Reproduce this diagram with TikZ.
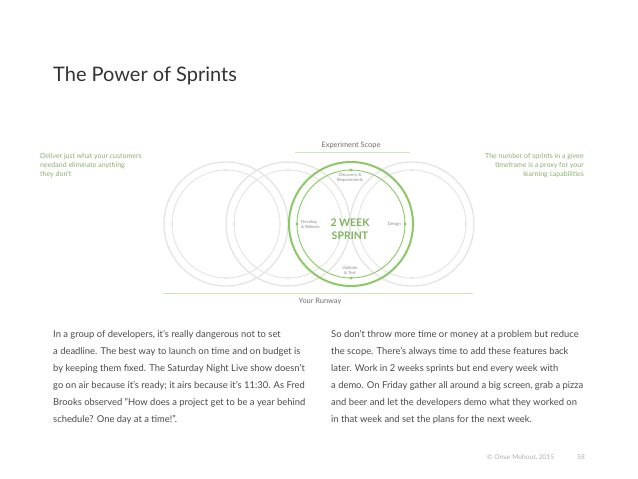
\documentclass[tikz,border=0pt]{standalone}
\usepackage{fontspec}
\setmainfont{Lato}
\definecolor{sgreen}{HTML}{8CC866}
\definecolor{lgreen}{HTML}{CDE6B8}
\definecolor{tgreen}{HTML}{8AAE6E}
\definecolor{cgray}{HTML}{E4E4E4}
\definecolor{dgray}{HTML}{8A8A8A}
\definecolor{txt}{HTML}{4A4A4A}
\definecolor{ttl}{HTML}{333333}
\tikzset{
  graycirc/.style={draw=cgray, line width=1.3pt},
  grayinner/.style={draw=cgray, line width=0.9pt},
  greencirc/.style={draw=sgreen, line width=2pt},
  greeninner/.style={draw=sgreen, line width=0.9pt},
  graydot/.style={fill=cgray, draw=none},
  greendot/.style={fill=sgreen, draw=none},
  bodytext/.style={inner sep=0pt, anchor=north west, align=left, text=txt, font=\fontsize{9.4}{17}\selectfont},
  sidetext/.style={inner sep=0pt, text=tgreen, font=\fontsize{7}{9}\selectfont},
  tiny/.style={inner sep=0pt, align=center, text=dgray, font=\fontsize{4.3}{5.5}\selectfont},
  scaletext/.style={inner sep=0pt, text=dgray!80!black, font=\fontsize{7.4}{8}\selectfont},
  guide/.style={draw=lgreen, line width=1pt},
  foot/.style={inner sep=0pt, anchor=base west, text=dgray!70, font=\fontsize{6.6}{8}\selectfont}
}
\begin{document}
\begin{tikzpicture}[x=1pt,y=-1pt]
\useasboundingbox[fill=white] (0,0) rectangle (638,479);
% title
\node[inner sep=0pt, anchor=base west, text=ttl, font=\fontsize{20}{22}\selectfont] (title) at (53,81) {The Power of Sprints};
% gray circles
\foreach \cx/\nm in {226/a,288/b,412/d}{
  \draw[graycirc] (\cx,224) circle (62);
  \draw[grayinner] (\cx,224) circle (54);
  \foreach \dx/\dy in {0/-54,0/54,-54/0,54/0}{
    \fill[graydot] (\cx+\dx,224+\dy) circle (1.3);
  }
}
% green circle
\coordinate (c) at (351,224);
\draw[greencirc] (c) circle (62);
\draw[greeninner] (c) circle (54);
\foreach \dx/\dy in {0/-54,0/54,-54/0,54/0}{
  \fill[greendot] (351+\dx,224+\dy) circle (1.6);
}
% inside labels
\node[tiny] (disc) at (350,178) {Discovery \&\\Requirements};
\node[tiny, align=left, anchor=west] (dev) at (301,224.5) {Develop\\\& Release};
\node[tiny, anchor=east] (des) at (401,224.5) {Design};
\node[tiny] (val) at (350,270.5) {Validate\\\& Test};
\node[inner sep=0pt, align=center, text=sgreen!90!black, font=\bfseries\fontsize{10.5}{13.5}\selectfont] (sprint) at (350,229) {2 WEEK\\SPRINT};
% experiment scope
\coordinate (es1) at (295,152.5);
\coordinate (es2) at (410,152.5);
\draw[guide] (es1) -- (es2);
\node[scaletext] (eslabel) at (351,145.5) {Experiment Scope};
% runway
\coordinate (rw1) at (163,293);
\coordinate (rw2) at (473,293);
\draw[guide] (rw1) -- (rw2);
\node[scaletext] (rwlabel) at (320,301) {Your Runway};
% side texts
\node[sidetext, anchor=north west, align=left] (lefttext) at (40,153) {Deliver just what your customers\\needand eliminate anything\\they don't};
\node[sidetext, anchor=north east, align=right] (righttext) at (584,153) {The number of sprints in a given\\timeframe is a proxy for your\\learning capabilities};
% body
\node[bodytext] (body1) at (53,330) {In a group of developers, it's really dangerous not to set\\a deadline. The best way to launch on time and on budget is\\by keeping them fixed. The Saturday Night Live show doesn't\\go on air because it's ready; it airs because it's 11:30. As Fred\\Brooks observed "How does a project get to be a year behind\\schedule? One day at a time!".};
\node[bodytext] (body2) at (331,330) {So don't throw more time or money at a problem but reduce\\the scope. There's always time to add these features back\\later. Work in 2 weeks sprints but end every week with\\a demo. On Friday gather all around a big screen, grab a pizza\\and beer and let the developers demo what they worked on\\in that week and set the plans for the next week.};
% footer
\node[foot] (copy) at (487,459) {© Omar Mohout, 2015};
\node[foot] (page) at (577,459) {58};
\end{tikzpicture}
\end{document}
